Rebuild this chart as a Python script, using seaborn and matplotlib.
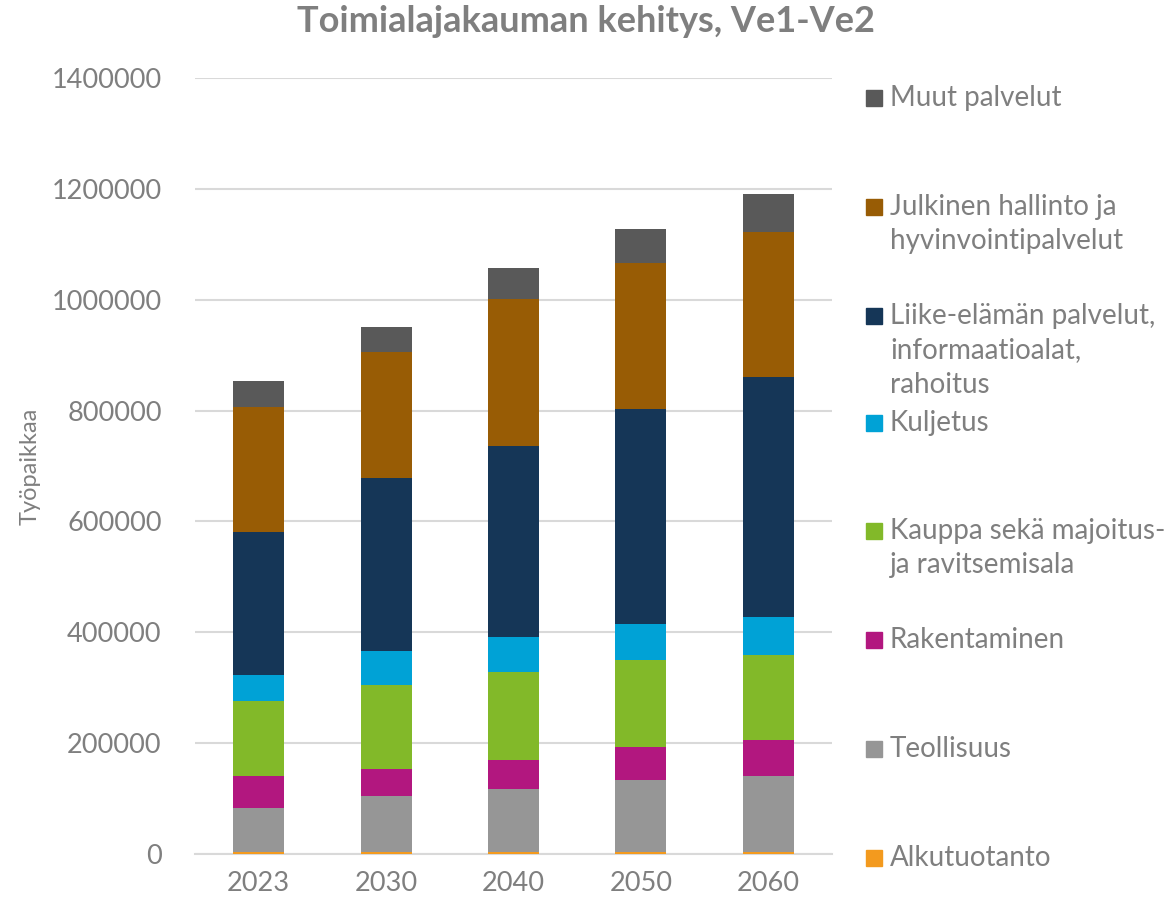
import matplotlib.pyplot as plt
import seaborn as sns
import pandas as pd
import numpy as np

years = ['2023', '2030', '2040', '2050', '2060']

# series, bottom to top
alkutuotanto = [4000, 4000, 4000, 4000, 4000]
teollisuus = [79000, 100000, 113000, 129000, 136000]
rakentaminen = [58000, 49000, 53000, 60000, 66000]
kauppa = [135000, 152000, 158000, 157000, 153000]
kuljetus = [47000, 61000, 63000, 65000, 69000]
liike = [258000, 312000, 345000, 388000, 433000]
julkinen = [225000, 227000, 265000, 263000, 262000]
muut = [48000, 45000, 56000, 61000, 68000]

labels = ['Alkutuotanto', 'Teollisuus', 'Rakentaminen',
          'Kauppa sekä majoitus-\nja ravitsemisala', 'Kuljetus',
          'Liike-elämän palvelut,\ninformaatioalat,\nrahoitus',
          'Julkinen hallinto ja\nhyvinvointipalvelut', 'Muut palvelut']
series = [alkutuotanto, teollisuus, rakentaminen, kauppa, kuljetus, liike, julkinen, muut]
colors = ['#f39a1e', '#969696', '#b2177f', '#82b929', '#00a2d6',
          '#153657', '#985c05', '#595959']

sns.set_style('white')
plt.rcParams['font.family'] = ['Lato', 'DejaVu Sans']
grey = '#7f7f7f'

fig = plt.figure(figsize=(11.71, 9.1), dpi=100)
ax = fig.add_axes([195 / 1171, 1 - 854 / 910, 637 / 1171, 776 / 910])

bottom = np.zeros(len(years))
for vals, col in zip(series, colors):
    df = pd.DataFrame({'year': years, 'value': vals})
    sns.barplot(data=df, x='year', y='value', color=col, bottom=bottom,
                width=0.4, linewidth=0, saturation=1, ax=ax, zorder=3)
    bottom = bottom + np.array(vals)

ax.set_xlim(-0.5, 4.5)
ax.set_ylim(0, 1400000)
ax.set_yticks(np.arange(0, 1400001, 200000))
ax.set_yticklabels([str(v) for v in range(0, 1400001, 200000)])
ax.yaxis.grid(True, color='#d9d9d9', linewidth=1.5, zorder=0)
ax.set_axisbelow(True)
for s in ['top', 'right', 'left']:
    ax.spines[s].set_visible(False)
ax.spines['bottom'].set_color('#d9d9d9')
ax.spines['bottom'].set_linewidth(1.5)
ax.tick_params(axis='both', length=0, labelsize=19.5, colors=grey, pad=24)
ax.tick_params(axis='x', pad=12)
ax.set_xlabel('')
ax.set_ylabel('')
fig.text(30 / 1171, 1 - 466 / 910, 'Työpaikkaa', rotation=90, ha='center', va='center',
         fontsize=17, color=grey)

fig.text(0.5, 1 - 22 / 910, 'Toimialajakauman kehitys, Ve1-Ve2', ha='center', va='center',
         fontsize=26, fontweight='bold', color=grey)

# legend, drawn like the Excel one with entries spread over the plot height
legend_y = [858, 749, 640, 531, 423, 316, 207, 98]
for lab, col, yp in zip(labels, colors, legend_y):
    fy = 1 - yp / 910
    fig.patches.append(plt.Rectangle((866 / 1171, fy - 8 / 910), 16 / 1171, 16 / 910,
                                     transform=fig.transFigure, color=col, figure=fig))
    fig.text(890 / 1171, fy + 13 / 910, lab, ha='left', va='top', fontsize=20,
             color=grey, linespacing=1.4)

fig.savefig('out.png', dpi=100)
